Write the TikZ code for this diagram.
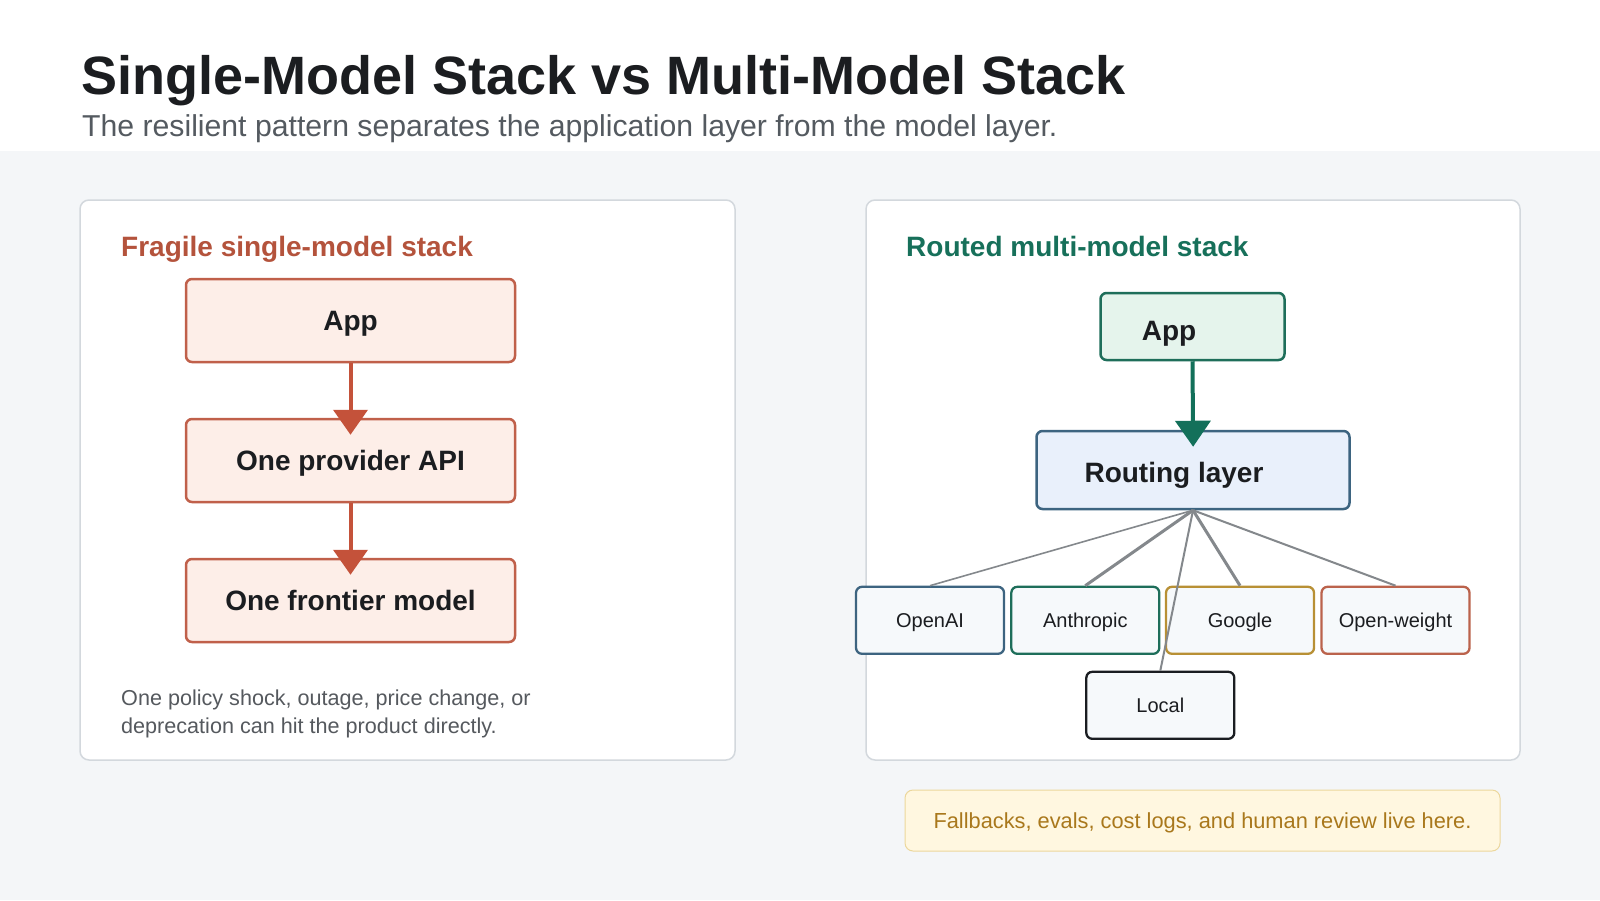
\documentclass[tikz,border=0pt]{standalone}
\usepackage{fontspec}
\setmainfont{Liberation Sans}
\usetikzlibrary{arrows.meta}
\definecolor{bggray}{HTML}{F4F6F8}
\definecolor{panelborder}{HTML}{D3D8DD}
\definecolor{titlecol}{HTML}{1B1D20}
\definecolor{subcol}{HTML}{545A60}
\definecolor{rusttitle}{HTML}{B4533C}
\definecolor{rustfill}{HTML}{FDEEE8}
\definecolor{rustborder}{HTML}{C0604A}
\definecolor{rustarrow}{HTML}{C4523A}
\definecolor{greentitle}{HTML}{17705A}
\definecolor{greenfill}{HTML}{E5F4EC}
\definecolor{greenborder}{HTML}{1E6E5A}
\definecolor{greenarrow}{HTML}{13705A}
\definecolor{bluefill}{HTML}{E9F0FB}
\definecolor{blueborder}{HTML}{3D6480}
\definecolor{goldborder}{HTML}{B89035}
\definecolor{openborder}{HTML}{BB634C}
\definecolor{localborder}{HTML}{1A1D21}
\definecolor{smallfill}{HTML}{F6F9FB}
\definecolor{fancol}{HTML}{84888C}
\definecolor{notefill}{HTML}{FFF7E0}
\definecolor{noteborder}{HTML}{ECD79C}
\definecolor{notetext}{HTML}{A9781C}
\definecolor{footcol}{HTML}{55595E}
\begin{document}
\begin{tikzpicture}[x=1pt,y=-1pt,
  panel/.style={draw=panelborder, line width=1.5pt, fill=white, rounded corners=9pt},
  lbox/.style={draw=rustborder, fill=rustfill, line width=2.5pt, rounded corners=6pt,
    minimum width=329pt, minimum height=83pt, inner sep=0pt,
    text height=20pt, text depth=0pt, text=titlecol,
    font=\fontsize{28}{32}\selectfont\bfseries},
  rbox/.style={line width=2.5pt, rounded corners=6pt, inner sep=0pt},
  btext/.style={anchor=base, text=titlecol, inner sep=0pt, font=\fontsize{28}{32}\selectfont\bfseries},
  sbox/.style={draw=#1, fill=smallfill, line width=2.3pt, rounded corners=6pt,
    minimum width=148pt, minimum height=67pt, inner sep=0pt,
    text height=14.3pt, text depth=0pt, text=titlecol,
    font=\fontsize{20}{24}\selectfont},
  larrow/.style={draw=rustarrow, line width=4pt, -{Triangle[width=34pt,length=25pt]}, shorten >=-17pt},
  rarrow/.style={draw=greenarrow, line width=4pt, -{Triangle[width=35pt,length=26pt]}, shorten >=-17pt},
  fan/.style={draw=fancol, line width=#1},
  ptitle/.style={anchor=base west, inner sep=0pt, font=\fontsize{28}{32}\selectfont\bfseries},
  foot/.style={anchor=base west, inner sep=0pt, text=footcol, font=\fontsize{21.6}{28}\selectfont}
]
\useasboundingbox (0,0) rectangle (1600,900);
\fill[bggray] (0,0) rectangle (1600,900);
\fill[white] (0,0) rectangle (1600,151);

% header
\node[anchor=base west, inner sep=0pt, text=titlecol, font=\fontsize{54}{60}\selectfont\bfseries]
  (title) at (81,94) {Single-Model Stack vs Multi-Model Stack};
\node[anchor=base west, inner sep=0pt, text=subcol, font=\fontsize{30.2}{34}\selectfont]
  (subtitle) at (82,136) {The resilient pattern separates the application layer from the model layer.};

% panels
\draw[panel] (80,200) rectangle (735,760);
\draw[panel] (866,200) rectangle (1520,760);

% left panel
\node[ptitle, text=rusttitle] (ltitle) at (121,256) {Fragile single-model stack};
\node[lbox] (lapp) at (350.5,320.5) {App};
\node[lbox] (lapi) at (350.5,460.5) {One provider API};
\node[lbox] (lmodel) at (350.5,600.5) {One frontier model};
\draw[larrow] (lapp.south) -- (lapi.north);
\draw[larrow] (lapi.south) -- (lmodel.north);
\node[foot] (foot1) at (121,705) {One policy shock, outage, price change, or};
\node[foot] (foot2) at (121,733) {deprecation can hit the product directly.};

% right panel
\node[ptitle, text=greentitle] (rtitle) at (906,256) {Routed multi-model stack};
\node[rbox, draw=greenborder, fill=greenfill, minimum width=184pt, minimum height=67pt] (rapp) at (1192.5,326.5) {};
\node[btext] (rapptext) at (1169,340) {App};
\node[rbox, draw=blueborder, fill=bluefill, minimum width=313pt, minimum height=78pt] (route) at (1193,470) {};
\node[btext] (routetext) at (1174,482) {Routing layer};
\draw[rarrow] (rapp.south) -- (route.north);

\node[sbox=blueborder] (openai) at (930,620.3) {OpenAI};
\node[sbox=greenborder] (anthropic) at (1085.3,620.3) {Anthropic};
\node[sbox=goldborder] (google) at (1240,620.3) {Google};
\node[sbox=openborder] (openw) at (1395.5,620.3) {Open-weight};
\node[sbox=localborder] (local) at (1160.3,705.3) {Local};

\draw[fan=1.6pt] (route.south) -- (openai.north);
\draw[fan=3pt] (route.south) -- (anthropic.north);
\draw[fan=3pt] (route.south) -- (google.north);
\draw[fan=2pt] (route.south) -- (openw.north);
\draw[fan=2pt] (route.south) -- (local.north);

% note
\node[draw=noteborder, fill=notefill, line width=1pt, rounded corners=8pt,
  minimum width=595pt, minimum height=61pt, inner sep=0pt,
  text height=15.6pt, text depth=0pt, text=notetext, font=\fontsize{21.8}{26}\selectfont]
  (note) at (1202.5,820.5) {Fallbacks, evals, cost logs, and human review live here.};
\end{tikzpicture}
\end{document}
